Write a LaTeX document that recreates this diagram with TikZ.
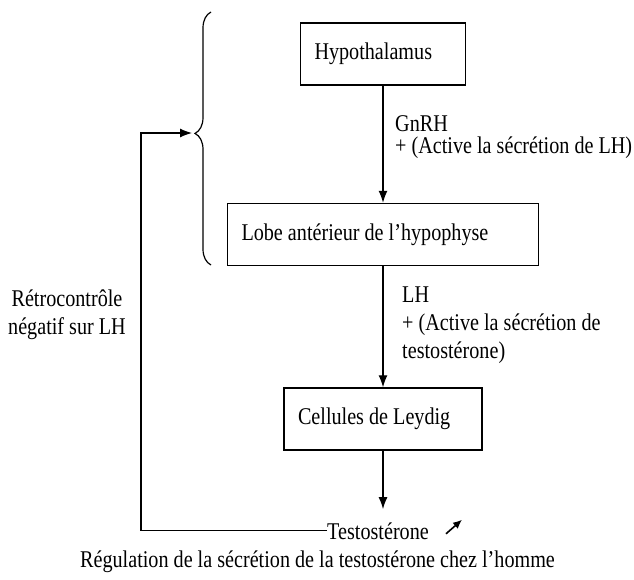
\documentclass[tikz,border=0pt]{standalone}
\usepackage{fontspec}
\setmainfont{Liberation Serif}[FakeStretch=0.84]
\usetikzlibrary{arrows.meta,decorations.pathreplacing}

\begin{document}
\begin{tikzpicture}[x=1pt,y=-1pt,font=\fontsize{24}{28}\selectfont,
	box/.style={draw,line width=1.4pt,align=flush left,inner xsep=14pt,minimum height=62pt},
	arr/.style={line width=1.2pt,-{Latex[length=12pt,width=9pt]}},
	lbl/.style={inner sep=0pt,align=flush left,anchor=north west}]
	\useasboundingbox (0,0) rectangle (634,580);
	\node[box,text width=137pt] (hyp) at (383,54) {Hypothalamus};
	\node[box,text width=283pt] (lobe) at (383,234.5) {Lobe antérieur de l'hypophyse};
	\node[box,text width=170pt] (leydig) at (383,419) {Cellules de Leydig};
	\node[inner sep=0pt,anchor=base west] (testo) at (327,539) {Testostérone};
	\node[lbl,font=\fontsize{24}{22}\selectfont] (gnrh) at (395,115) {GnRH\\+ (Active la sécrétion de LH)};
	\node[lbl] (lh) at (402,287) {LH\\+ (Active la sécrétion de\\testostérone)};
	\node[inner sep=0pt,align=center,anchor=north] (retro) at (67,290) {Rétrocontrôle\\négatif sur LH};
	\node[anchor=base] (caption) at (317.5,567) {Régulation de la sécrétion de la testostérone chez l'homme};
	\coordinate (tip) at (195,133);
	\coordinate (corner) at (141,133);
	\draw[arr] (hyp.south) -- (lobe.north);
	\draw[arr] (lobe.south) -- (leydig.north);
	\draw[arr,shorten >=13pt] (leydig.south) -- (leydig.south |- testo.north);
	\draw[arr,shorten >=3pt] (testo.west) -| (corner) -- (tip);
	\draw[line width=1.2pt,decorate,decoration={brace,amplitude=16pt,aspect=0.52}] (211,265) -- (211,12);
	\draw[line width=1.6pt,-{Latex[length=9pt,width=8pt]}] ([shift={(17,3)}]testo.east) -- ++(16,-14);
\end{tikzpicture}
\end{document}
